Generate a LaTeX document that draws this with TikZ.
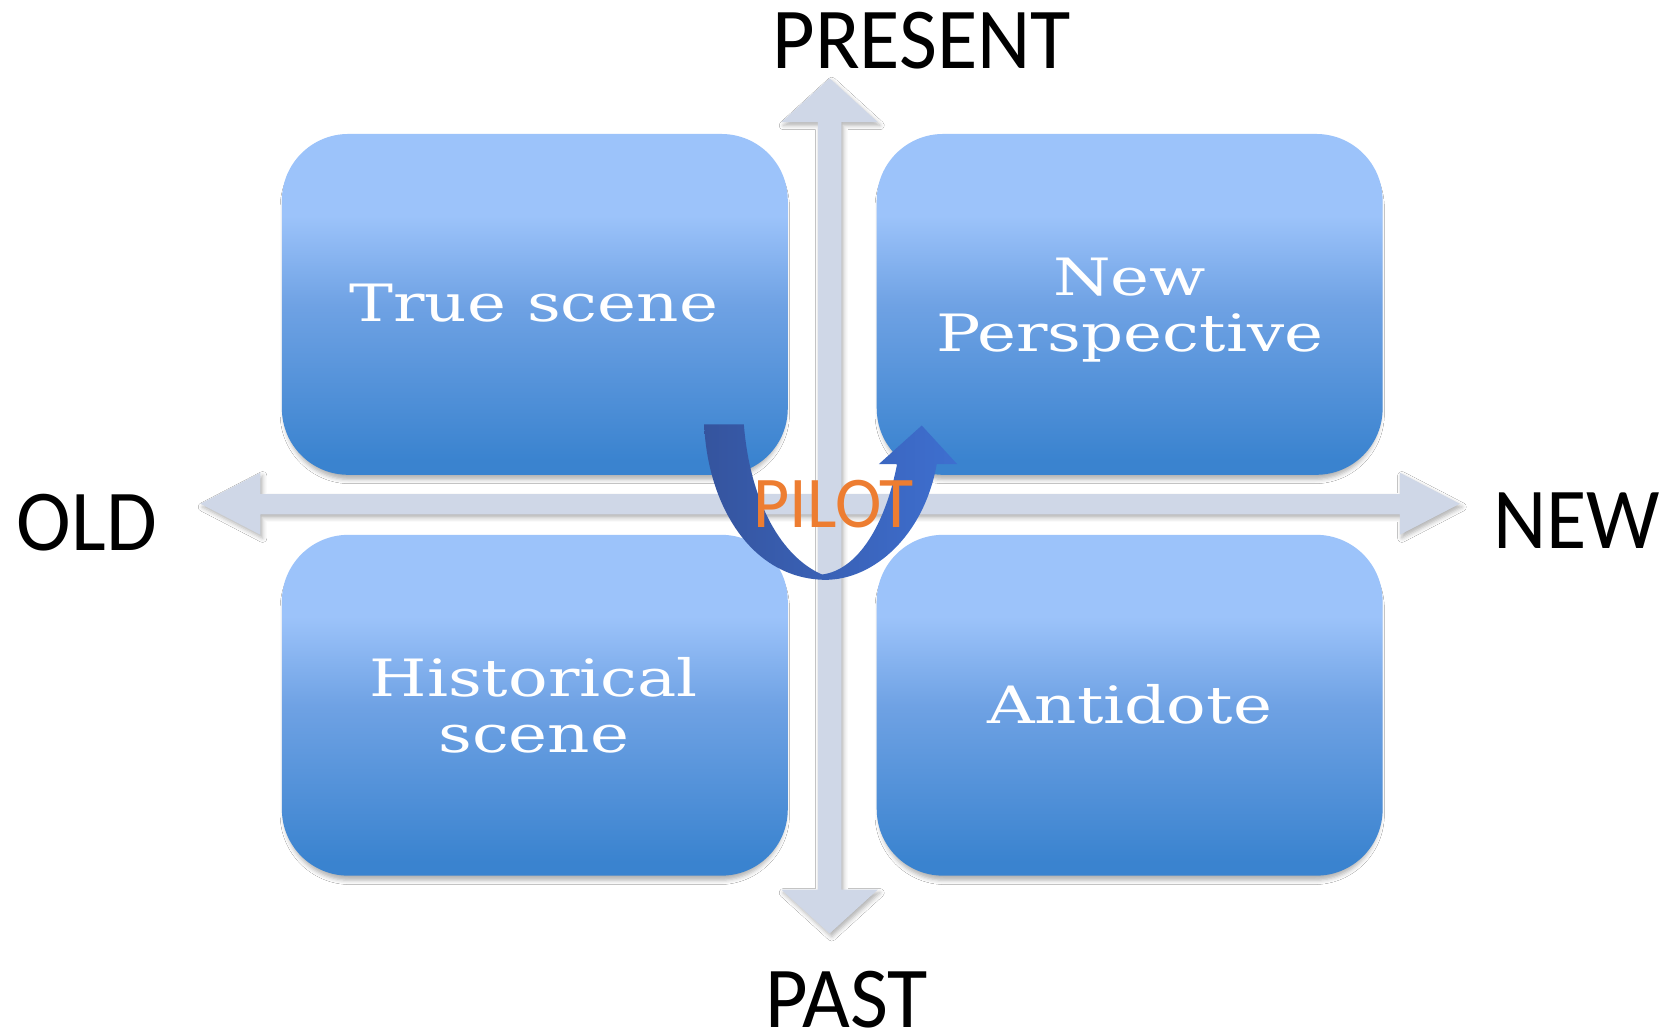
\documentclass[tikz,border=0pt]{standalone}
\usepackage{fontspec}
\newfontfamily\boxfont{DejaVu Serif}
\newfontfamily\labfont{Carlito}
\usetikzlibrary{shadows.blur}
\definecolor{boxtop}{HTML}{9CC3FA}
\definecolor{boxmid}{HTML}{6FA2E4}
\definecolor{boxbot}{HTML}{3A83CF}
\definecolor{axiscol}{HTML}{CFD7E7}
\definecolor{pilotcol}{HTML}{ED7D31}
\definecolor{uleft}{HTML}{35549E}
\definecolor{uright}{HTML}{3E6FD0}
\pgfdeclareverticalshading{boxshade}{100bp}{color(0bp)=(boxbot); color(27bp)=(boxbot); color(50bp)=(boxmid); color(63bp)=(boxtop); color(100bp)=(boxtop)}
\begin{document}
\begin{tikzpicture}[x=1pt,y=-1pt,
  quad/.style={rounded corners=62pt, minimum width=472pt, minimum height=318pt,
    shading=boxshade, inner sep=0pt,
    blur shadow={shadow xshift=0pt,shadow yshift=-6pt,shadow blur radius=4pt,shadow opacity=30,shadow scale=0.99}},
  quadtext/.style={text=white, font=\boxfont\fontsize{48}{52}\selectfont, align=center, xscale=1.28, inner sep=0pt},
  axislabel/.style={text=black, font=\labfont\fontsize{81}{90}\selectfont, xscale=0.95, inner sep=0pt},
  ]
\useasboundingbox (0,0) rectangle (1560,964);
\fill[white] (0,0) rectangle (1560,964);
% axes
\path[fill=axiscol, blur shadow={shadow xshift=2pt,shadow yshift=-3pt,shadow blur radius=4pt,shadow opacity=30}]
  (774,73) -- (819,114) -- (785,114) -- (785,830) -- (819,830) -- (774,871) -- (729,830) -- (763,830) -- (763,114) -- (729,114) -- cycle
  (187,470) -- (243,441) -- (243,461) -- (1306,461) -- (1306,441) -- (1362,470) -- (1306,499) -- (1306,480) -- (243,480) -- (243,499) -- cycle;
% quadrants
\node[quad] (tl) at (499,284) {};
\node[quad] (tr) at (1054,284) {};
\node[quad] (bl) at (499,658) {};
\node[quad] (br) at (1054,658) {};
\node[quadtext] (tlt) at (498,283) {True scene};
\node[quadtext] (trt) at (1054,289) {New\\Perspective};
\node[quadtext] (blt) at (498,658) {Historical\\scene};
\node[quadtext] (brt) at (1054,657) {Antidote};
% U-turn arrow
\shade[left color=uleft, right color=uright]
  (657,396) .. controls (660,470) and (700,540) .. (770,541)
  .. controls (815,541) and (862,500) .. (874,433)
  -- (893,433) -- (860,397) -- (820,433) -- (837,433)
  .. controls (826,490) and (800,532) .. (767,536)
  .. controls (730,520) and (700,470) .. (694,396) -- cycle;
\node[font=\labfont\fontsize{68}{72}\selectfont, text=pilotcol, xscale=0.96, inner sep=0pt] (pilot) at (778,470) {PILOT};
% axis labels
\node[axislabel] (present) at (860,38) {PRESENT};
\node[axislabel] (old) at (81,488) {OLD};
\node[axislabel] (new) at (1471,486) {NEW};
\node[axislabel] (past) at (790,933) {PAST};
\end{tikzpicture}
\end{document}
